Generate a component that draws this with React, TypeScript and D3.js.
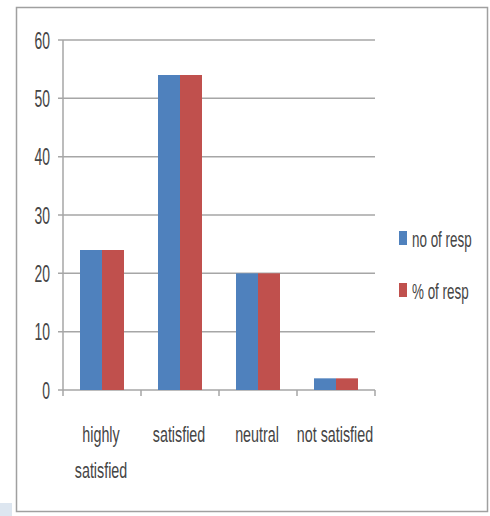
import React from "react";
import * as d3 from "d3";

const categories = ["highly satisfied", "satisfied", "neutral", "not satisfied"];
const categoryLines = [["highly", "satisfied"], ["satisfied"], ["neutral"], ["not satisfied"]];
const seriesNames = ["no of resp", "% of resp"];
const noOfResp = [24, 54, 20, 2];
const pctOfResp = [24, 54, 20, 2];
const yTicks = [0, 10, 20, 30, 40, 50, 60];
const colors = ["#4F81BD", "#C0504D"];

const W = 490;
const H = 516;
const FONT = "'Liberation Sans', Arial, sans-serif";
const TXT = "#454545";

export default function App() {
  const x = d3.scaleBand<string>().domain(categories).range([63, 375]);
  const y = d3.scaleLinear().domain([0, 60]).range([390, 40]);
  const series = [noOfResp, pctOfResp];
  const inner = d3.scaleBand<number>().domain([0, 1]).range([0, 44]);

  return (
    <svg width={W} height={H} style={{ position: "absolute", left: 0, top: 0, background: "#fff" }}>
      <rect x={0} y={503} width={12} height={13} fill="#dde6f0" />
      <rect x={16.5} y={7.5} width={471} height={504} fill="#fff" stroke="#a0a0a0" strokeWidth={1.5} />
      {yTicks.map((t) => (
        <g key={t}>
          <line x1={58} x2={375} y1={y(t)} y2={y(t)} stroke="#a6a6a6" strokeWidth={1.5} />
          <text transform={`translate(50,${y(t) + 8.5}) scale(0.58,1)`} textAnchor="end" fontFamily={FONT} fontSize={24} fill={TXT}>{t}</text>
        </g>
      ))}
      <line x1={63} x2={63} y1={40} y2={390} stroke="#a6a6a6" strokeWidth={1.5} />
      {categories.map((c) => (
        <line key={c} x1={x(c)!} x2={x(c)!} y1={390} y2={396} stroke="#a6a6a6" strokeWidth={1.5} />
      ))}
      <line x1={375} x2={375} y1={390} y2={396} stroke="#a6a6a6" strokeWidth={1.5} />
      {categories.map((c, i) =>
        series.map((s, k) => {
          const bx = x(c)! + 17 + inner(k)!;
          return (
            <rect key={c + k} x={bx} y={y(s[i])} width={inner.bandwidth()} height={y(0) - y(s[i])} fill={colors[k]} />
          );
        })
      )}
      {categories.map((c, i) => (
        <g key={c}>
          {categoryLines[i].map((ln, j) => (
            <text key={j} transform={`translate(${x(c)! + x.bandwidth() / 2 - 1},${442 + j * 36}) scale(0.65,1)`} textAnchor="middle" fontFamily={FONT} fontSize={22} fill={TXT}>{ln}</text>
          ))}
        </g>
      ))}
      {seriesNames.map((n, k) => (
        <g key={n}>
          <rect x={399} y={231 + k * 52} width={8} height={14} fill={colors[k]} />
          <text transform={`translate(412,${247 + k * 52}) scale(0.61,1)`} fontFamily={FONT} fontSize={22} fill={TXT}>{n}</text>
        </g>
      ))}
    </svg>
  );
}
